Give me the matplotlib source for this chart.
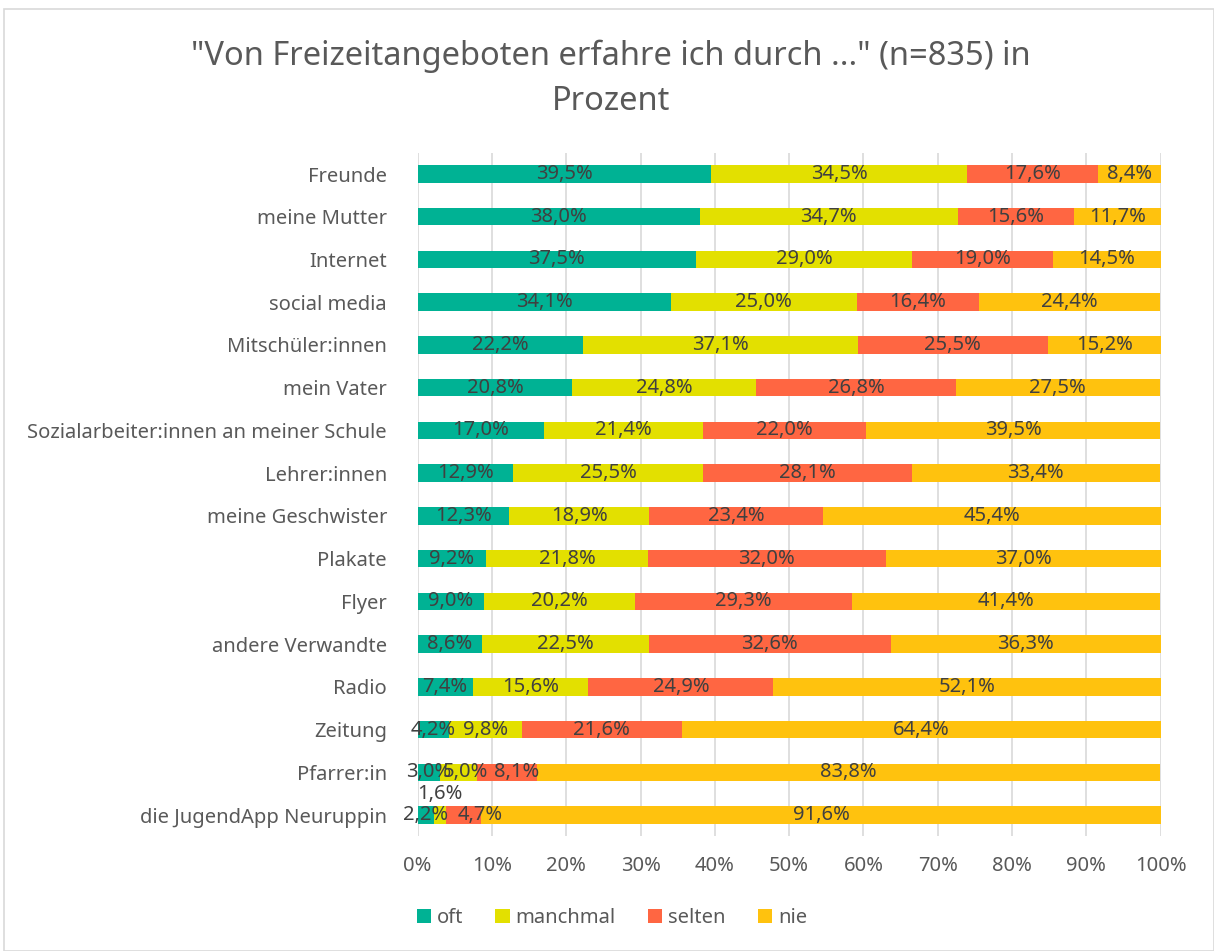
import matplotlib.pyplot as plt
import numpy as np
from matplotlib.patches import Rectangle

categories = [
    "Freunde", "meine Mutter", "Internet", "social media", "Mitschüler:innen",
    "mein Vater", "Sozialarbeiter:innen an meiner Schule", "Lehrer:innen",
    "meine Geschwister", "Plakate", "Flyer", "andere Verwandte", "Radio",
    "Zeitung", "Pfarrer:in", "die JugendApp Neuruppin",
]
oft = [39.5, 38.0, 37.5, 34.1, 22.2, 20.8, 17.0, 12.9, 12.3, 9.2, 9.0, 8.6, 7.4, 4.2, 3.0, 2.2]
manchmal = [34.5, 34.7, 29.0, 25.0, 37.1, 24.8, 21.4, 25.5, 18.9, 21.8, 20.2, 22.5, 15.6, 9.8, 5.0, 1.6]
selten = [17.6, 15.6, 19.0, 16.4, 25.5, 26.8, 22.0, 28.1, 23.4, 32.0, 29.3, 32.6, 24.9, 21.6, 8.1, 4.7]
nie = [8.4, 11.7, 14.5, 24.4, 15.2, 27.5, 39.5, 33.4, 45.4, 37.0, 41.4, 36.3, 52.1, 64.4, 83.8, 91.6]

series_names = ["oft", "manchmal", "selten", "nie"]
colors = ["#00B294", "#E3E000", "#FF6642", "#FFC20E"]

# small nudges for crowded labels on the narrow segments (series, row): dx in %
label_nudge = {("manchmal", 14): 0.9, ("selten", 14): 1.3, ("selten", 15): 2.3}

plt.rcParams["font.family"] = ["Noto Sans", "DejaVu Sans"]

fig = plt.figure(figsize=(12.14, 9.51), dpi=100)
ax = fig.add_axes([0.344, 0.1205, 0.612, 0.719])

y = np.arange(len(categories))
left = np.zeros(len(categories))
for name, vals, col in zip(series_names, [oft, manchmal, selten, nie], colors):
    vals = np.array(vals)
    ax.barh(y, vals, left=left, height=0.41, color=col, label=name, zorder=3)
    for i, (l, v) in enumerate(zip(left, vals)):
        cx = l + v / 2 + label_nudge.get((name, i), 0)
        cy = y[i]
        # the tiny 1,6% label sits above its bar
        if name == "manchmal" and i == len(categories) - 1:
            cy = y[i] - 0.5
        ax.text(cx, cy, f"{v:.1f}%".replace(".", ","), ha="center", va="center",
                fontsize=14.5, color="#404040", zorder=4)
    left = left + vals

ax.set_xlim(0, 100)
ax.set_ylim(len(categories) - 0.5, -0.5)
ax.set_yticks(y)
ax.set_yticklabels(categories, fontsize=14.5, color="#595959")
ax.set_xticks(np.arange(0, 101, 10))
ax.set_xticklabels([f"{t}%" for t in range(0, 101, 10)], fontsize=14.5, color="#595959")
ax.tick_params(axis="both", length=0)
ax.tick_params(axis="x", pad=14)
ax.tick_params(axis="y", pad=22)
ax.grid(axis="x", color="#D9D9D9", linewidth=1.2, zorder=0)
for s in ax.spines.values():
    s.set_visible(False)

fig.text(0.503, 0.941, "\"Von Freizeitangeboten erfahre ich durch ...\" (n=835) in",
         ha="center", va="center", fontsize=23.5, color="#595959")
fig.text(0.503, 0.893, "Prozent", ha="center", va="center", fontsize=23.5, color="#595959")

ax.legend(loc="center", bbox_to_anchor=((0.504 - 0.344) / 0.612, (1 - 918 / 951 - 0.1205) / 0.719),
          bbox_transform=ax.transAxes, ncol=4, frameon=False, fontsize=14.5,
          handlelength=0.7, handleheight=0.7, handletextpad=0.3, columnspacing=1.6,
          labelcolor="#595959")

fig.patches.append(Rectangle((0.003, 0.0), 0.997, 0.991, transform=fig.transFigure,
                             fill=False, edgecolor="#D9D9D9", linewidth=1.2))

fig.savefig("out.png", dpi=100)
